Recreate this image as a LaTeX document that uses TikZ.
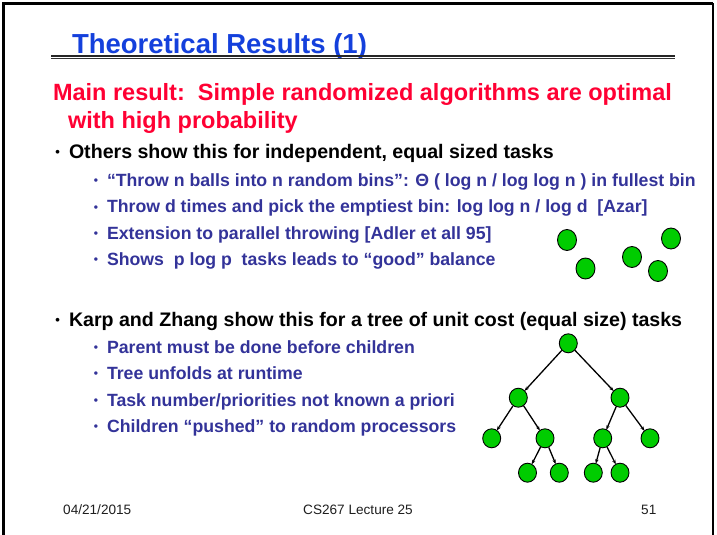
\documentclass[tikz,border=0pt]{standalone}
\usepackage{fontspec}
\setmainfont{Liberation Sans}
\usetikzlibrary{arrows.meta,shapes.geometric}
\definecolor{titleblue}{RGB}{20,64,220}
\definecolor{mainred}{RGB}{255,0,51}
\definecolor{subblue}{RGB}{51,51,153}
\definecolor{ballgreen}{RGB}{0,204,0}
\definecolor{footgray}{RGB}{30,30,30}
\newcommand{\bul}[1]{\llap{\raisebox{1.8pt}{\fontsize{#1}{#1}\selectfont •}\hspace{9pt}}}
\tikzset{
  txt/.style={anchor=base west, inner sep=0pt, outer sep=0pt},
  titletxt/.style={txt, text=titleblue, font=\fontsize{27.5}{30}\selectfont\bfseries},
  redtxt/.style={txt, text=mainred, font=\fontsize{23.5}{26}\selectfont\bfseries},
  lvlone/.style={txt, text=black, font=\fontsize{19.6}{22}\selectfont\bfseries},
  lvltwo/.style={txt, text=subblue, font=\fontsize{17.7}{20}\selectfont\bfseries},
  foot/.style={anchor=base west, inner sep=0pt, text=footgray, font=\fontsize{13.6}{15}\selectfont},
  ball/.style={ellipse, draw=black, line width=0.9pt, fill=ballgreen, minimum width=18pt, minimum height=19pt, inner sep=0pt},
  fball/.style={ball, minimum width=19pt, minimum height=21pt},
  arr/.style={-{Stealth[length=4.5pt,width=3.4pt]}, line width=1.3pt, black, shorten >=-0.5pt}
}
\begin{document}
\begin{tikzpicture}[x=1pt,y=-1pt]
\useasboundingbox (0,0) rectangle (717,535);
\clip (0,0) rectangle (717,535);
% frame
\draw[line width=2.6pt] (3.3,536) -- (3.3,3.3) -- (713,3.3);
\draw[line width=1.8pt] (713,3.3) -- (713,536);
% title
\node[titletxt] (title) at (72,54) {Theoretical Results (1)};
\coordinate (ulA) at (51,56.2);
\coordinate (ulB) at (675,56.2);
\coordinate (ulC) at (51,58.9);
\coordinate (ulD) at (675,58.9);
\draw[line width=1.8pt, color=black!85] (ulA) -- (ulB);
\draw[line width=0.9pt, color=black!80] (ulC) -- (ulD);
% main result
\node[redtxt] (m1) at (53,100.5) {Main result:\ \ Simple randomized algorithms are optimal};
\node[redtxt] (m2) at (68,128) {with high probability};
% first block
\node[lvlone] (b1) at (69,158) {\bul{13}Others show this for independent, equal sized tasks};
\node[lvltwo] (s1) at (107,186.5) {\bul{12}“Throw n balls into n random bins”: Θ ( log n / log log n ) in fullest bin};
\node[lvltwo] (s2) at (107,212.8) {\bul{12}Throw d times and pick the emptiest bin: log log n / log d\ \ [Azar]};
\node[lvltwo] (s3) at (107,239.2) {\bul{12}Extension to parallel throwing [Adler et all 95]};
\node[lvltwo] (s4) at (107,265.6) {\bul{12}Shows\ \ p log p\ \ tasks leads to “good” balance};
% balls
\node[fball] (f1) at (567,240) {};
\node[fball] (f2) at (671,238.5) {};
\node[fball] (f3) at (585.5,268.5) {};
\node[fball] (f4) at (632,257) {};
\node[fball] (f5) at (658,271) {};
% second block
\node[lvlone] (b2) at (69,326) {\bul{13}Karp and Zhang show this for a tree of unit cost (equal size) tasks};
\node[lvltwo] (t1) at (107,353) {\bul{12}Parent must be done before children};
\node[lvltwo] (t2) at (107,379.4) {\bul{12}Tree unfolds at runtime};
\node[lvltwo] (t3) at (107,406) {\bul{12}Task number/priorities not known a priori};
\node[lvltwo] (t4) at (107,432.5) {\bul{12}Children “pushed” to random processors};
% tree
\node[ball] (r) at (568.3,343.3) {};
\node[ball] (a) at (518.3,397.7) {};
\node[ball] (b) at (620,397.7) {};
\node[ball] (c1) at (491.7,438.3) {};
\node[ball] (c2) at (545,438.3) {};
\node[ball] (c3) at (602.7,438.3) {};
\node[ball] (c4) at (650,438.3) {};
\node[ball] (d1) at (527.5,472.7) {};
\node[ball] (d2) at (559.3,472.7) {};
\node[ball] (d3) at (593.3,472.7) {};
\node[ball] (d4) at (620,472.7) {};
\draw[arr] (r) -- (a);
\draw[arr] (r) -- (b);
\draw[arr] (a) -- (c1);
\draw[arr] (a) -- (c2);
\draw[arr] (b) -- (c3);
\draw[arr] (b) -- (c4);
\draw[arr] (c2) -- (d1);
\draw[arr] (c2) -- (d2);
\draw[arr] (c3) -- (d3);
\draw[arr] (c3) -- (d4);
% footer
\node[foot] (date) at (63,514) {04/21/2015};
\node[foot] (course) at (303,514) {CS267 Lecture 25};
\node[foot] (page) at (641,514) {51};
\end{tikzpicture}
\end{document}
